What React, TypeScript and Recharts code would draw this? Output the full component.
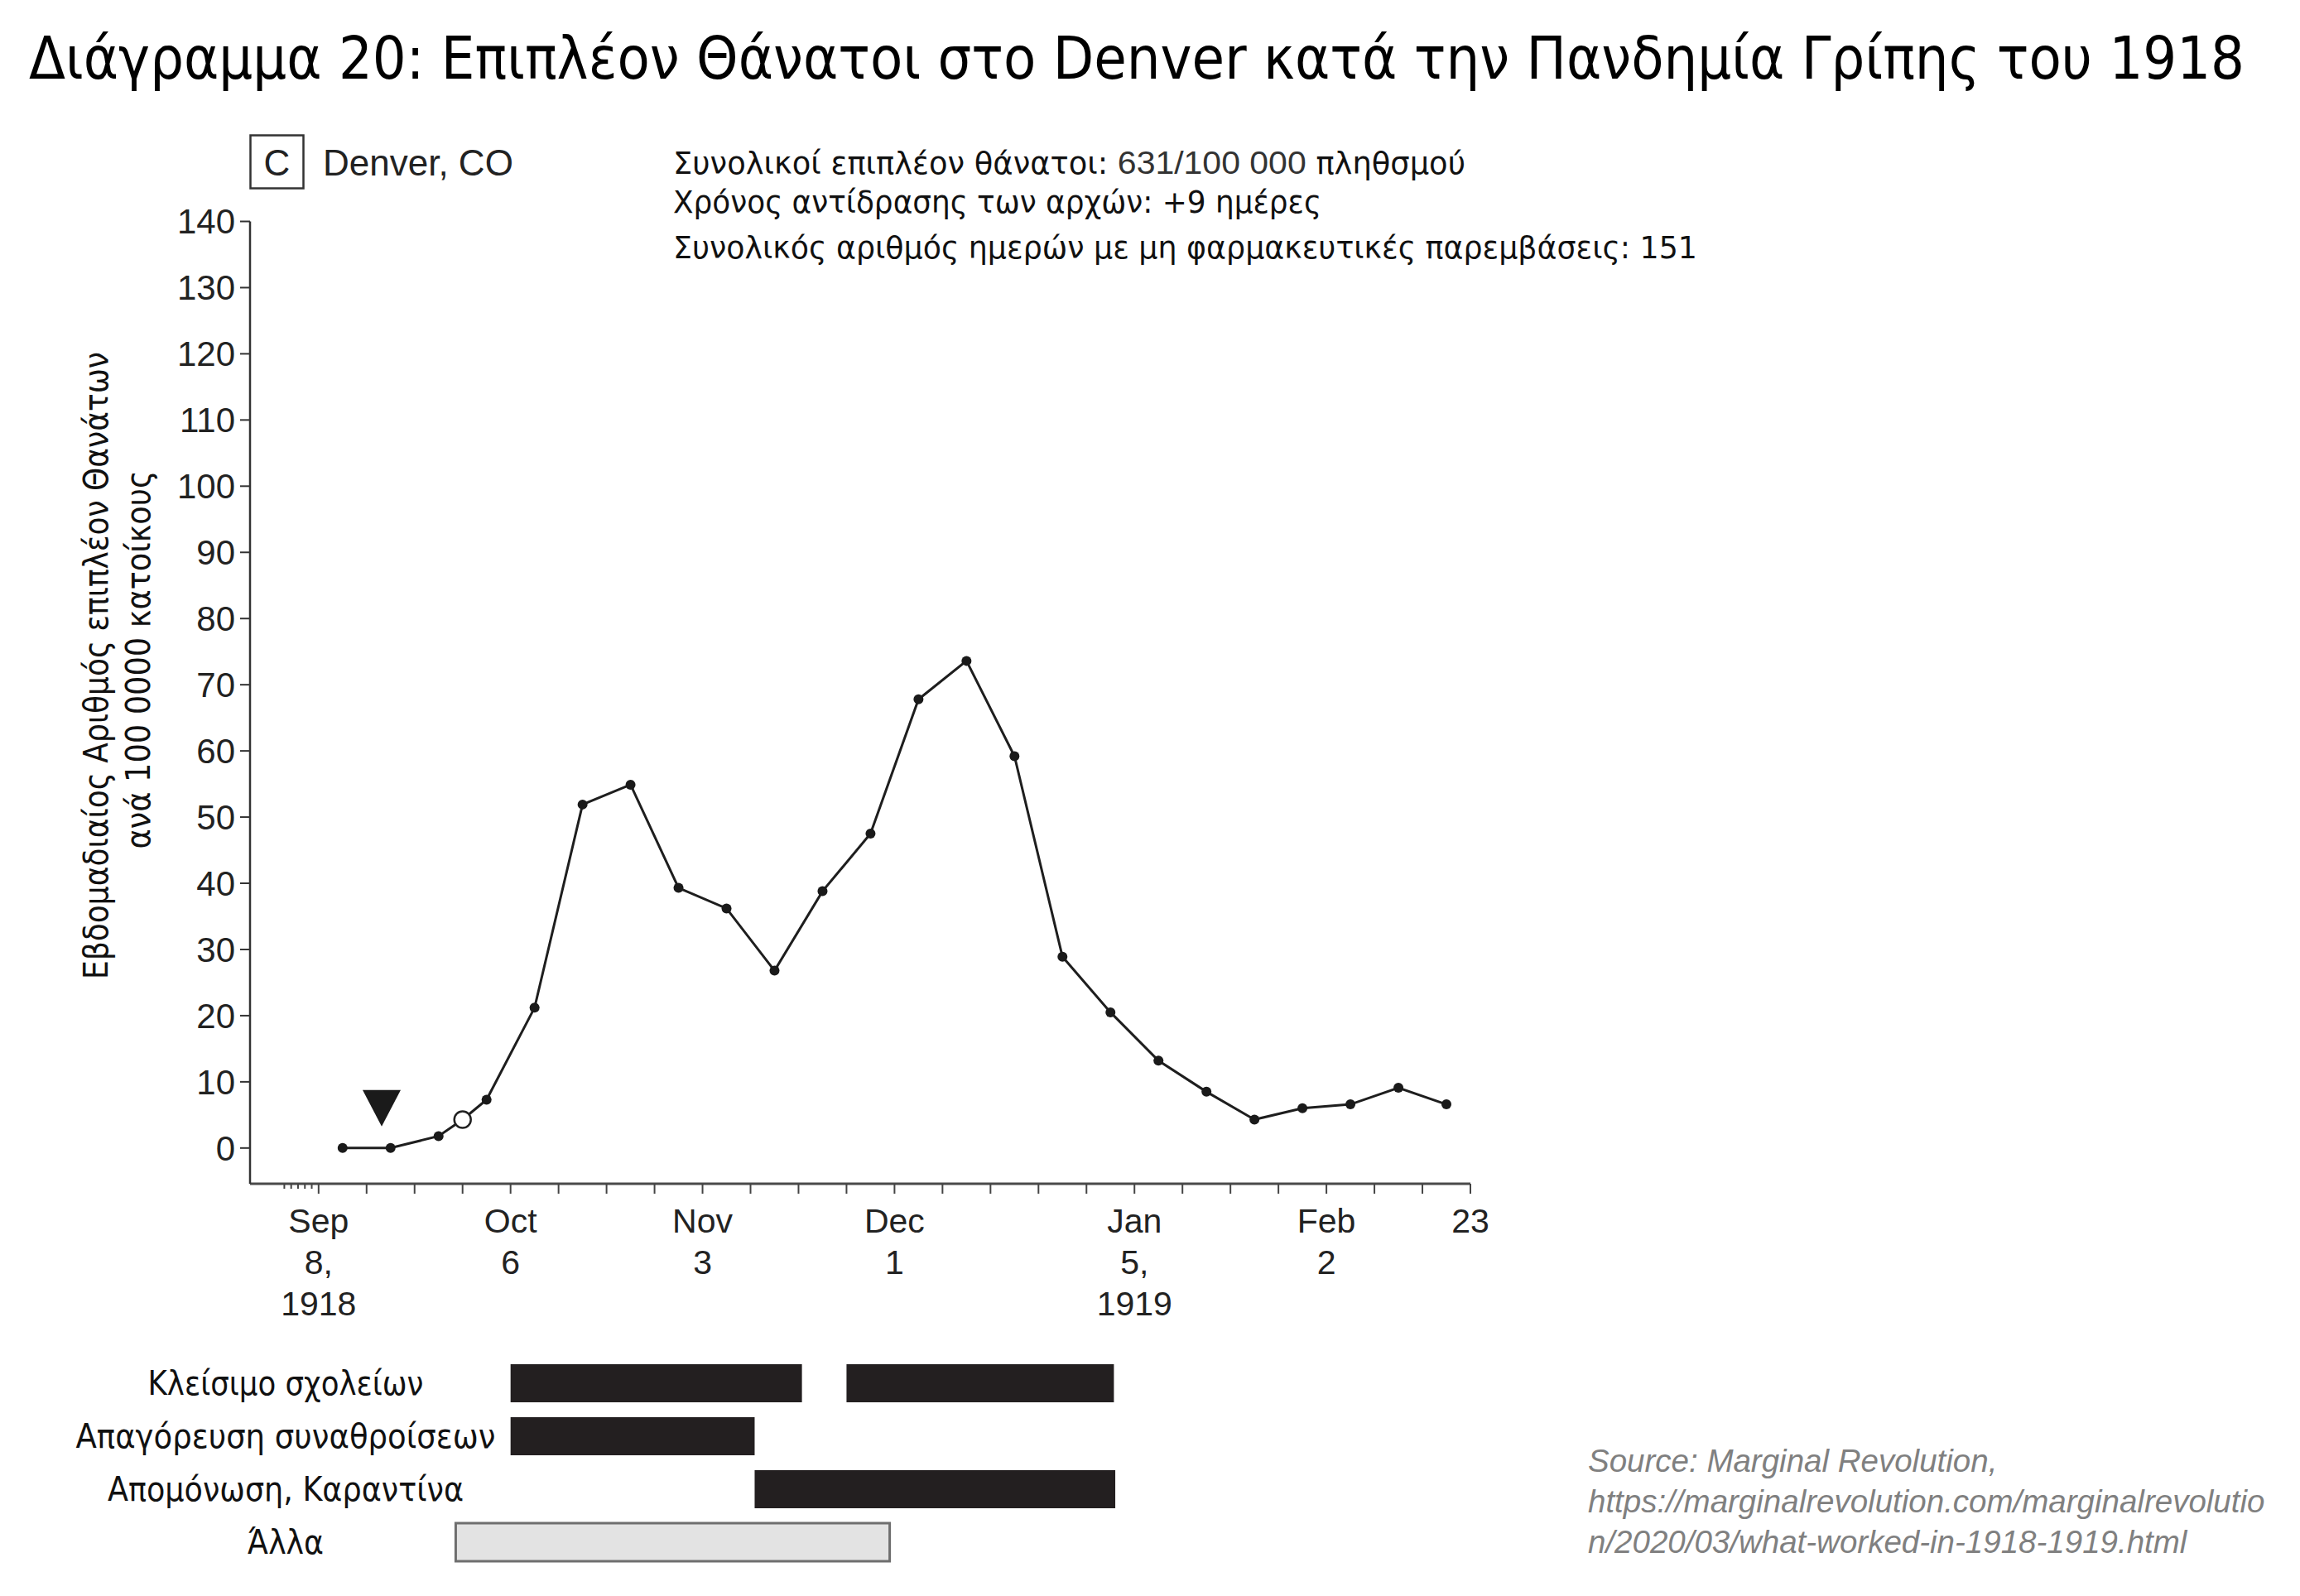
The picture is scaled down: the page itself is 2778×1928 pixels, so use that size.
import React from 'react';
import {
  LineChart,
  Line,
  XAxis,
  YAxis,
  ReferenceDot,
  ReferenceArea,
  ComposedChart,
} from 'recharts';

// ---------- DATA ----------
// days since Sunday Sep 8, 1918
const pointDays = [3.5, 10.5, 17.5, 21, 24.5, 31.5, 38.5, 45.5, 52.5, 59.5, 66.5, 73.5, 80.5, 87.5, 94.5, 101.5, 108.5, 115.5, 122.5, 129.5, 136.5, 143.5, 150.5, 157.5, 164.5];
const excessDeaths = [0, 0, 1.8, 4.3, 7.3, 21.2, 51.9, 54.9, 39.3, 36.2, 26.8, 38.8, 47.5, 67.8, 73.6, 59.2, 28.9, 20.5, 13.2, 8.5, 4.3, 6.0, 6.6, 9.1, 6.6];
const openPointDay = 21;

const triggerDay = 9.2;
const triggerValue = 6;

const yTicks = [0, 10, 20, 30, 40, 50, 60, 70, 80, 90, 100, 110, 120, 130, 140];
const minorTickDays = [-5, -4, -3, -2, -1];
const weekTickDays = [0, 7, 14, 21, 28, 35, 42, 49, 56, 63, 70, 77, 84, 91, 98, 105, 112, 119, 126, 133, 140, 147, 154, 161, 168];
const xLabelDays = [0, 28, 56, 84, 119, 147, 168];
const xLabelLines = [
  ['Sep', '8,', '1918'],
  ['Oct', '6'],
  ['Nov', '3'],
  ['Dec', '1'],
  ['Jan', '5,', '1919'],
  ['Feb', '2'],
  ['23'],
];

const interventionLabels = ['Κλείσιμο σχολείων', 'Απαγόρευση συναθροίσεων', 'Απομόνωση, Καραντίνα', 'Άλλα'];
const interventionLabelWidths = [333, 507, 430, 92];
const interventionRow = [0, 0, 1, 2, 3];
const interventionStart = [28, 77, 28, 63.6, 20];
const interventionEnd = [70.5, 116, 63.6, 116.2, 83.3];
const interventionKind = ['mandate', 'mandate', 'mandate', 'mandate', 'other'];

const titleText = 'Διάγραμμα 20: Επιπλέον Θάνατοι στο Denver κατά την Πανδημία Γρίπης του 1918';
const panelLetter = 'C';
const cityText = 'Denver, CO';
const yLabelLines = ['Εβδομαδιαίος Αριθμός επιπλέον Θανάτων', 'ανά 100 0000 κατοίκους'];
const annotation1 = ['Συνολικοί επιπλέον θάνατοι: ', '631/100 000', ' πληθσμού'];
const annotation2 = 'Χρόνος αντίδρασης των αρχών: +9 ημέρες';
const annotation3 = 'Συνολικός αριθμός ημερών με μη φαρμακευτικές παρεμβάσεις: 151';
const sourceLines = [
  'Source: Marginal Revolution,',
  'https://marginalrevolution.com/marginalrevolutio',
  'n/2020/03/what-worked-in-1918-1919.html',
];

// ---------- STYLE ----------
const GREEK = "'DejaVu Sans Condensed', 'DejaVu Sans', sans-serif";
const HELV = "'Liberation Sans', Arial, sans-serif";
const INK = '#1e1e1e';

const lineData = pointDays.map((d, i) => ({ day: d, v: excessDeaths[i], open: d === openPointDay }));
const xTicks = [...minorTickDays, ...weekTickDays];

const XTick = (props: any) => {
  const { x, y, payload } = props;
  const v = payload.value;
  const minor = v < 0;
  const idx = xLabelDays.indexOf(v);
  const lines = idx >= 0 ? xLabelLines[idx] : [];
  return (
    <g>
      <line x1={x} x2={x} y1={y} y2={y + (minor ? 6 : 12)} stroke="#444" strokeWidth={2} />
      {lines.map((t, i) => (
        <text key={i} x={x} y={y + 59 + i * 50} textAnchor="middle" fontSize={41} fontFamily={HELV} fill="#222">
          {t}
        </text>
      ))}
    </g>
  );
};

const renderDot = (p: any) => {
  const { cx, cy, payload, index } = p;
  if (payload.open) {
    return <circle key={`d${index}`} cx={cx} cy={cy} r={10} fill="#fff" stroke="#222" strokeWidth={2.5} />;
  }
  return <circle key={`d${index}`} cx={cx} cy={cy} r={6} fill="#1a1a1a" />;
};

const Triangle = (p: any) => {
  const { cx, cy } = p;
  return <polygon points={`${cx - 23},${cy - 22} ${cx + 23},${cy - 22} ${cx},${cy + 22}`} fill="#1a1a1a" />;
};

const RowTick = (props: any) => {
  const { x, y, payload } = props;
  const i = Math.floor(payload.value);
  return (
    <text
      x={x + 43}
      y={y + 14}
      textAnchor="middle"
      fontSize={40}
      fontFamily={GREEK}
      fill="#111"
      textLength={interventionLabelWidths[i]}
      lengthAdjust="spacingAndGlyphs"
    >
      {interventionLabels[i]}
    </text>
  );
};

const rowData = interventionStart.map((s, i) => ({ x: s, mid: interventionRow[i] + 0.5 }));

export default function App() {
  return (
    <div style={{ position: 'absolute', left: 0, top: 0, width: 2778, height: 1928, background: '#fff', overflow: 'hidden' }}>
      <div style={{ position: 'absolute', left: 0, top: 0 }}>
        <LineChart width={2778} height={1600} data={lineData} margin={{ top: 267.5, right: 1002, bottom: 10, left: 202 }}>
          <XAxis
            type="number"
            dataKey="day"
            domain={[-10, 168]}
            allowDataOverflow
            ticks={xTicks}
            interval={0}
            tickLine={false}
            tickSize={0}
            tickMargin={0}
            height={160}
            axisLine={{ stroke: '#4a4a4a', strokeWidth: 3 }}
            tick={<XTick />}
          />
          <YAxis
            type="number"
            domain={[-5.4, 140]}
            allowDataOverflow
            ticks={yTicks}
            interval={0}
            width={100}
            tickSize={12}
            tickMargin={6}
            axisLine={{ stroke: '#333', strokeWidth: 2.5 }}
            tickLine={{ stroke: '#333', strokeWidth: 2 }}
            tick={{ fontSize: 42, fontFamily: HELV, fill: '#222' }}
          />
          <Line
            type="linear"
            dataKey="v"
            stroke={INK}
            strokeWidth={3}
            dot={renderDot}
            activeDot={false}
            isAnimationActive={false}
          />
          <ReferenceDot x={triggerDay} y={triggerValue} shape={<Triangle />} ifOverflow="visible" />
        </LineChart>
      </div>

      <div style={{ position: 'absolute', left: 0, top: 1620 }}>
        <ComposedChart width={2778} height={300} data={rowData} margin={{ top: 19, right: 1002, bottom: 25, left: 2 }}>
          <XAxis type="number" dataKey="x" domain={[-10, 168]} allowDataOverflow hide />
          <YAxis
            type="number"
            domain={[0, 4]}
            reversed
            allowDataOverflow
            ticks={[0.5, 1.5, 2.5, 3.5]}
            interval={0}
            width={300}
            axisLine={false}
            tickLine={false}
            tickSize={0}
            tickMargin={0}
            tick={<RowTick />}
          />
          <Line dataKey="mid" stroke="none" dot={false} activeDot={false} isAnimationActive={false} />
          {interventionStart.map((s, i) => (
            <ReferenceArea
              key={i}
              x1={s}
              x2={interventionEnd[i]}
              y1={interventionRow[i] + 0.14}
              y2={interventionRow[i] + 0.86}
              ifOverflow="visible"
              fill={interventionKind[i] === 'other' ? '#e3e3e3' : '#231f20'}
              fillOpacity={1}
              stroke={interventionKind[i] === 'other' ? '#6e6e6e' : 'none'}
              strokeWidth={interventionKind[i] === 'other' ? 3 : 0}
            />
          ))}
        </ComposedChart>
      </div>

      <svg width={2778} height={1928} style={{ position: 'absolute', left: 0, top: 0, pointerEvents: 'none' }}>
        <text x={1373} y={95} textAnchor="middle" fontSize={72} fontFamily={GREEK} fill="#000" textLength={2676} lengthAdjust="spacingAndGlyphs">
          {titleText}
        </text>

        <rect x={302.5} y={163.5} width={64} height={64} fill="none" stroke="#333" strokeWidth={2.5} />
        <text x={334.5} y={212} textAnchor="middle" fontSize={44} fontFamily={HELV} fill="#222">{panelLetter}</text>
        <text x={390} y={212} fontSize={44} fontFamily={HELV} fill="#222">{cityText}</text>

        <text x={813} y={210} fontSize={38} fontFamily={GREEK} fill="#111" textLength={957} lengthAdjust="spacingAndGlyphs">
          {annotation1[0]}
          <tspan fontFamily={HELV} fill="#333">{annotation1[1]}</tspan>
          {annotation1[2]}
        </text>
        <text x={813} y={257} fontSize={38} fontFamily={GREEK} fill="#111" textLength={783} lengthAdjust="spacingAndGlyphs">
          {annotation2}
        </text>
        <text x={813} y={312} fontSize={38} fontFamily={GREEK} fill="#111" textLength={1237} lengthAdjust="spacingAndGlyphs">
          {annotation3}
        </text>

        <text transform="translate(130,804) rotate(-90)" textAnchor="middle" fontSize={40} fontFamily={GREEK} fill="#111" textLength={758} lengthAdjust="spacingAndGlyphs">
          {yLabelLines[0]}
        </text>
        <text transform="translate(181,797) rotate(-90)" textAnchor="middle" fontSize={40} fontFamily={GREEK} fill="#111" textLength={457} lengthAdjust="spacingAndGlyphs">
          {yLabelLines[1]}
        </text>

        {sourceLines.map((t, i) => (
          <text key={i} x={1918} y={1778 + i * 49} fontSize={38.5} fontStyle="italic" fontFamily={HELV} fill="#808080">
            {t}
          </text>
        ))}
      </svg>
    </div>
  );
}
